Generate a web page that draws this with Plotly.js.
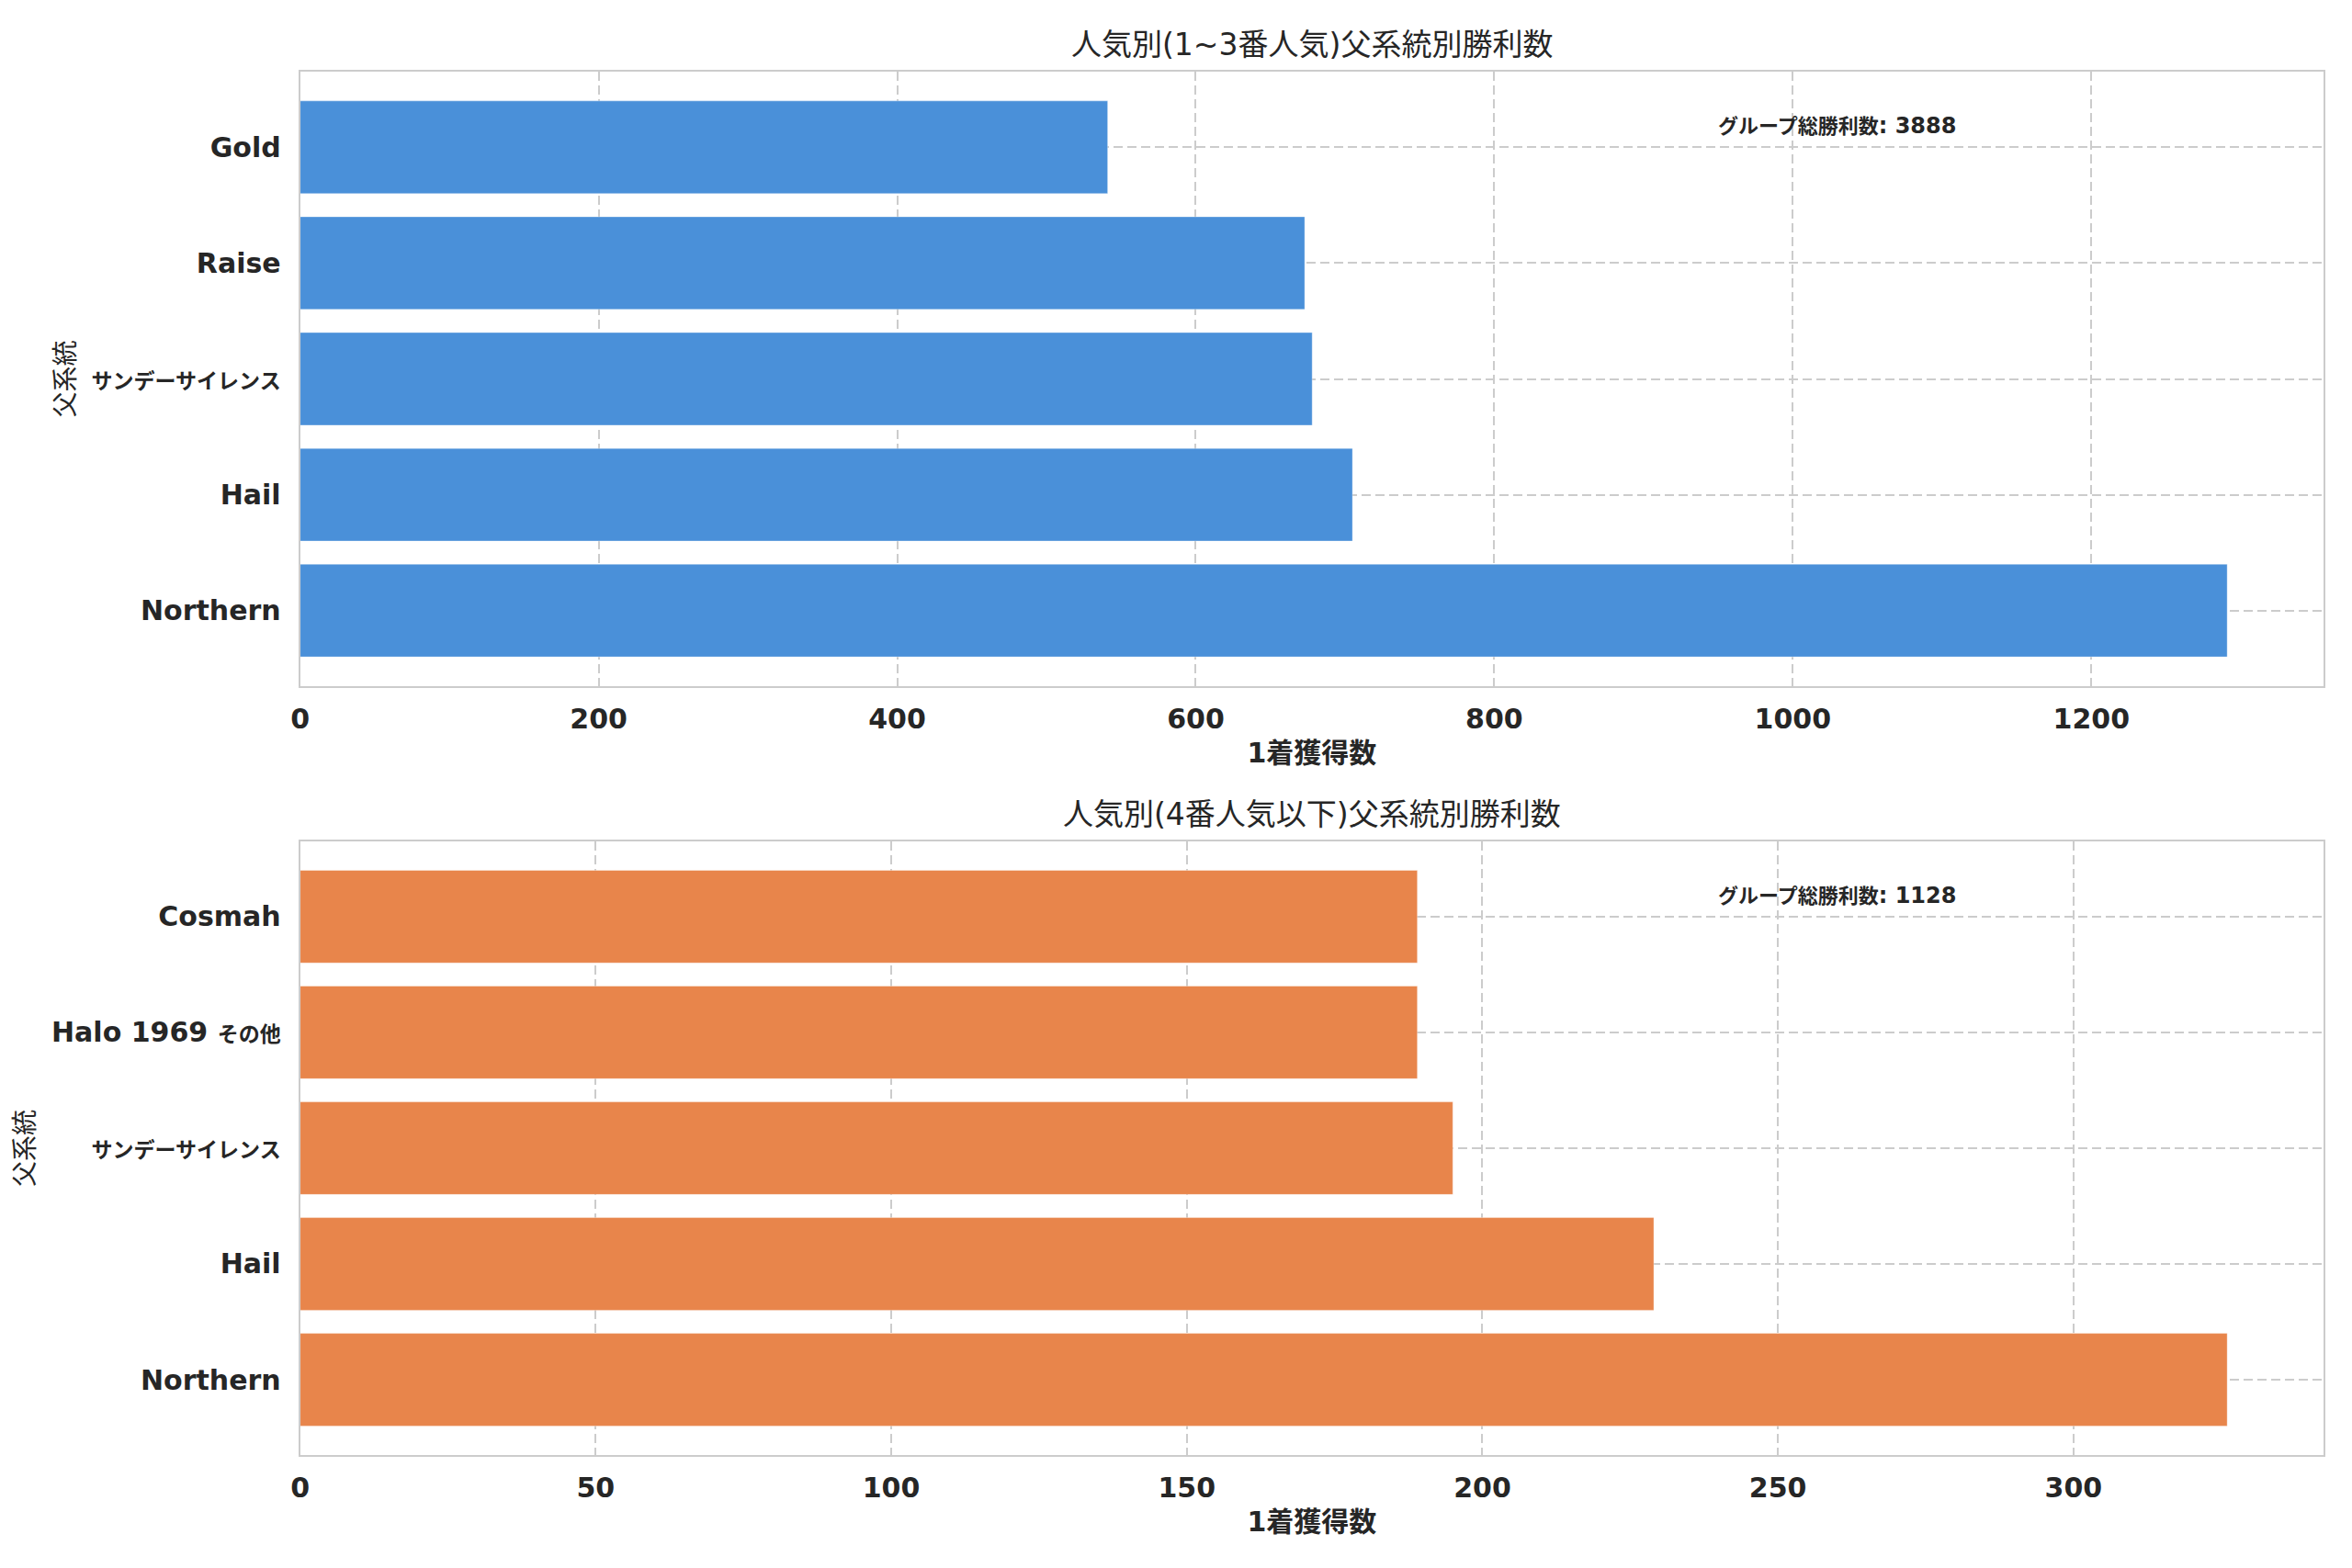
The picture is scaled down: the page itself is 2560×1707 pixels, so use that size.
<!DOCTYPE html>
<html>
<head>
<meta charset="utf-8">
<script src="https://cdn.plot.ly/plotly-3.0.1.min.js"></script>
<style>
  html, body { margin: 0; padding: 0; background: #ffffff; }
  #chart { width: 2560px; height: 1707px; }
</style>
</head>
<body>
<div id="chart"></div>
<script>
// 上段: 1~3番人気
const topCategories = ['Northern', 'Hail', 'サンデーサイレンス', 'Raise', 'Gold'];
const topWins = [1291, 705, 678, 673, 541];
// 下段: 4番人気以下
const bottomCategories = ['Northern', 'Hail', 'サンデーサイレンス', 'Halo 1969 その他', 'Cosmah'];
const bottomWins = [326, 229, 195, 189, 189];

const topTitle = '人気別(1~3番人気)父系統別勝利数';
const bottomTitle = '人気別(4番人気以下)父系統別勝利数';
const xLabel = '1着獲得数';
const yLabel = '父系統';
const totalLabel = 'グループ総勝利数';

const blue = '#4a90d9';
const orange = '#e8854b';
const textColor = '#262626';
const gridColor = '#cccccc';
const baseFont = 'DejaVu Sans, Noto Sans CJK JP, sans-serif';

const sum = arr => arr.reduce((a, b) => a + b, 0);

// CJK glyphs are much wider than the boxes in the original, so keep them a bit smaller in tick labels
function tickLabel(s) {
    return s.replace(/([\u3000-\u30ff\u4e00-\u9fff\uff00-\uffef]+)/g, '<span style="font-size:23px">$1</span>');
}

function barTrace(cats, vals, color, xa, ya) {
    return {
        type: 'bar',
        orientation: 'h',
        y: cats,
        x: vals,
        width: 0.8,
        xaxis: xa,
        yaxis: ya,
        marker: { color: color, line: { color: 'rgba(255,255,255,0.35)', width: 1 } },
        hoverinfo: 'x+y',
        showlegend: false
    };
}

function xAxis(domain, anchor, max, dtick) {
    return {
        domain: domain,
        anchor: anchor,
        range: [0, max],
        tick0: 0,
        dtick: dtick,
        showgrid: true,
        gridcolor: gridColor,
        gridwidth: 2,
        griddash: '10px,5px',
        zeroline: false,
        showline: true,
        mirror: true,
        linecolor: gridColor,
        linewidth: 2,
        ticks: '',
        ticklabelstandoff: 8,
        tickfont: { family: baseFont, size: 30, color: textColor, weight: 'bold' },
        title: {
            text: '<b>' + xLabel + '</b>',
            standoff: 10,
            font: { family: baseFont, size: 30, color: textColor }
        }
    };
}

function yAxis(domain, anchor, cats) {
    return {
        domain: domain,
        anchor: anchor,
        type: 'category',
        range: [-0.65, 4.65],
        tickvals: cats,
        ticktext: cats.map(tickLabel),
        showgrid: true,
        gridcolor: gridColor,
        gridwidth: 2,
        griddash: '10px,5px',
        zeroline: false,
        showline: true,
        mirror: true,
        linecolor: gridColor,
        linewidth: 2,
        ticks: '',
        ticklabelstandoff: 13,
        tickfont: { family: baseFont, size: 30, color: textColor, weight: 'bold' },
        title: {
            text: yLabel,
            standoff: 10,
            font: { family: baseFont, size: 28, color: textColor }
        }
    };
}

const xDomain = [0.1276, 0.9879];

const data = [
    barTrace(topCategories, topWins, blue, 'x', 'y'),
    barTrace(bottomCategories, bottomWins, orange, 'x2', 'y2')
];

const layout = {
    width: 2560,
    height: 1707,
    margin: { l: 0, r: 0, t: 0, b: 0 },
    paper_bgcolor: '#ffffff',
    plot_bgcolor: '#ffffff',
    bargap: 0.2,
    xaxis: xAxis(xDomain, 'y', Math.max(...topWins) * 1.05, 200),
    yaxis: yAxis([0.5626, 0.9541], 'x', topCategories),
    xaxis2: xAxis(xDomain, 'y2', Math.max(...bottomWins) * 1.05, 50),
    yaxis2: yAxis([0.0721, 0.4634], 'x2', bottomCategories),
    annotations: [
        {
            text: topTitle, xref: 'paper', yref: 'paper', x: 0.5578, y: 0.9713,
            xanchor: 'center', yanchor: 'middle', showarrow: false,
            font: { family: baseFont, size: 33, color: textColor }
        },
        {
            text: bottomTitle, xref: 'paper', yref: 'paper', x: 0.5578, y: 0.4804,
            xanchor: 'center', yanchor: 'middle', showarrow: false,
            font: { family: baseFont, size: 33, color: textColor }
        },
        {
            text: '<b><span style="font-size:22px">' + totalLabel + '</span>: ' + sum(topWins) + '</b>',
            xref: 'x domain', yref: 'y domain', x: 0.7, y: 0.912,
            xanchor: 'left', yanchor: 'middle', showarrow: false,
            font: { family: baseFont, size: 24, color: textColor }
        },
        {
            text: '<b><span style="font-size:22px">' + totalLabel + '</span>: ' + sum(bottomWins) + '</b>',
            xref: 'x2 domain', yref: 'y2 domain', x: 0.7, y: 0.912,
            xanchor: 'left', yanchor: 'middle', showarrow: false,
            font: { family: baseFont, size: 24, color: textColor }
        }
    ]
};

Plotly.newPlot('chart', data, layout, { staticPlot: true, displayModeBar: false });
</script>
</body>
</html>
